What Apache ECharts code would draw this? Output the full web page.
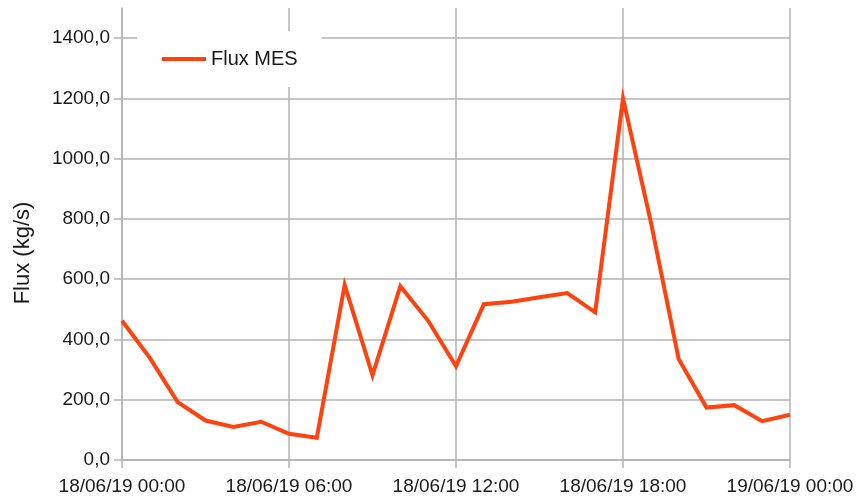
<!DOCTYPE html>
<html>
<head>
<meta charset="utf-8">
<script src="https://cdn.jsdelivr.net/npm/echarts@6/dist/echarts.min.js"></script>
<style>
  html, body { margin: 0; padding: 0; background: #fff; }
  #chart { width: 862px; height: 497px; }
</style>
</head>
<body>
<div id="chart"></div>
<script>
// Hourly timestamps
const times = [
  '18/06/19 00:00', '18/06/19 01:00', '18/06/19 02:00', '18/06/19 03:00',
  '18/06/19 04:00', '18/06/19 05:00', '18/06/19 06:00', '18/06/19 07:00',
  '18/06/19 08:00', '18/06/19 09:00', '18/06/19 10:00', '18/06/19 11:00',
  '18/06/19 12:00', '18/06/19 13:00', '18/06/19 14:00', '18/06/19 15:00',
  '18/06/19 16:00', '18/06/19 17:00', '18/06/19 18:00', '18/06/19 19:00',
  '18/06/19 20:00', '18/06/19 21:00', '18/06/19 22:00', '18/06/19 23:00',
  '19/06/19 00:00'
];

// Flux MES (kg/s)
const fluxMES = [
  462, 339, 192, 131, 110, 127, 87, 74,
  581, 281, 577, 462, 311, 517, 525, 540,
  554, 490, 1200, 790, 335, 174, 182, 129,
  150
];

const seriesName = 'Flux MES';
const yAxisName = 'Flux (kg/s)';

const gridColor = '#b3b3b3';
const textColor = '#1a1a1a';
const lineColor = '#ff420e';
const font = 'Liberation Sans, Arial, sans-serif';

const chart = echarts.init(document.getElementById('chart'), null, { renderer: 'canvas' });

chart.setOption({
  animation: false,
  backgroundColor: '#ffffff',
  grid: { left: 122, right: 72, top: 8, bottom: 37, containLabel: false },
  legend: {
    data: [seriesName],
    left: 137,
    top: 31,
    padding: [18, 24, 18, 25],
    backgroundColor: '#ffffff',
    icon: 'rect',
    itemWidth: 44,
    itemHeight: 4,
    itemGap: 6,
    itemStyle: { color: lineColor },
    textStyle: { fontFamily: font, fontSize: 20, color: textColor }
  },
  xAxis: {
    type: 'category',
    data: times,
    boundaryGap: false,
    axisLine: { show: true, lineStyle: { color: gridColor, width: 1.5 } },
    axisTick: { show: true, interval: 5, length: 8, lineStyle: { color: gridColor, width: 1.5 } },
    axisLabel: {
      interval: 5,
      margin: 17,
      fontFamily: font,
      fontSize: 19,
      color: textColor,
      showMaxLabel: true
    },
    splitLine: { show: true, interval: 5, lineStyle: { color: gridColor, width: 1.5 } }
  },
  yAxis: {
    type: 'value',
    min: 0,
    max: 1500,
    interval: 200,
    name: yAxisName,
    nameLocation: 'middle',
    nameGap: 88,
    nameRotate: 90,
    nameTextStyle: { fontFamily: font, fontSize: 22, color: textColor, padding: [0, 38, 0, 0] },
    axisLine: { show: true, lineStyle: { color: gridColor, width: 1.5 } },
    axisTick: { show: true, length: 8, lineStyle: { color: gridColor, width: 1.5 } },
    axisLabel: {
      margin: 12,
      fontFamily: font,
      fontSize: 19,
      color: textColor,
      showMaxLabel: false,
      formatter: v => v.toFixed(1).replace('.', ',')
    },
    splitLine: { show: true, showMaxLine: false, lineStyle: { color: gridColor, width: 1.5 } }
  },
  series: [{
    name: seriesName,
    type: 'line',
    data: fluxMES,
    symbol: 'none',
    lineStyle: { color: lineColor, width: 4, join: 'miter' },
    itemStyle: { color: lineColor },
    z: 3
  }]
});
</script>
</body>
</html>
